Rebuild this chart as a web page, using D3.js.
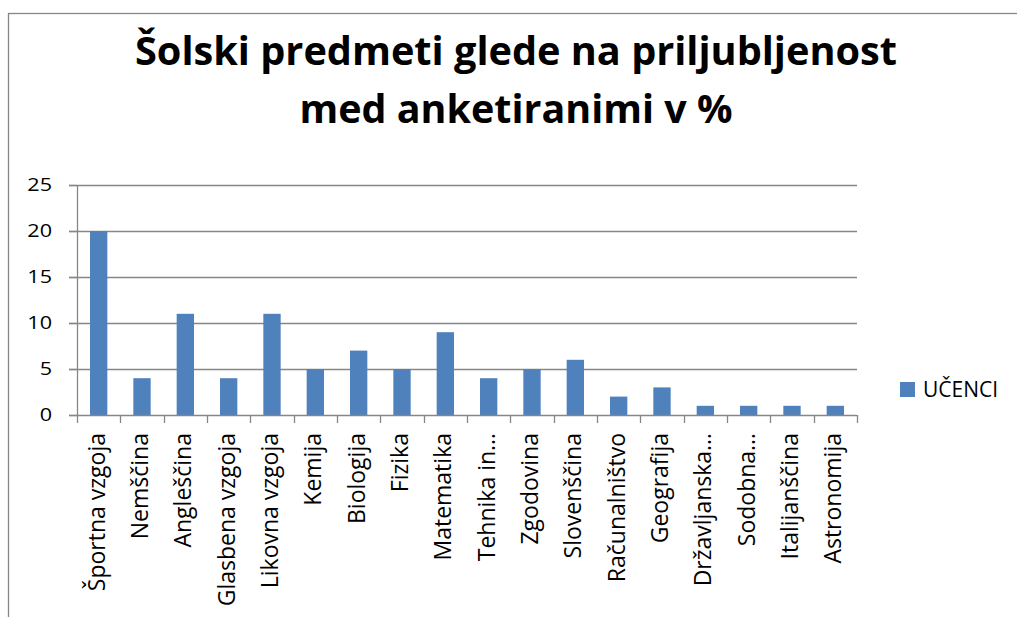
<!DOCTYPE html>
<html>
<head>
<meta charset="utf-8">
<script src="https://cdn.jsdelivr.net/npm/d3@7"></script>
<style>
  body { margin: 0; background: #fff; }
  svg { display: block; font-family: 'Open Sans', sans-serif; }
</style>
</head>
<body>
<svg id="chart" width="1017" height="617"></svg>
<script>
var categories = ['Športna vzgoja', 'Nemščina', 'Angleščina', 'Glasbena vzgoja', 'Likovna vzgoja',
  'Kemija', 'Biologija', 'Fizika', 'Matematika', 'Tehnika in…', 'Zgodovina', 'Slovenščina',
  'Računalništvo', 'Geografija', 'Državljanska…', 'Sodobna…', 'Italijanščina', 'Astronomija'];
var ucenci = [20, 4, 11, 4, 11, 5, 7, 5, 9, 4, 5, 6, 2, 3, 1, 1, 1, 1];
var yTicks = [0, 5, 10, 15, 20, 25];
var seriesName = 'UČENCI';
var titleLines = ['Šolski predmeti glede na priljubljenost', 'med anketiranimi v %'];

var svg = d3.select('#chart'),
    margin = {top: 185, left: 77, right: 160, bottom: 202},
    width = 1017 - margin.left - margin.right,
    height = 617 - margin.top - margin.bottom,
    grey = '#868686',
    blue = '#4F81BD';

// chart frame
svg.append('rect')
    .attr('x', 8.5).attr('y', 13.5)
    .attr('width', 1100).attr('height', 700)
    .attr('fill', 'none').attr('stroke', grey).attr('stroke-width', 1.3);

// title
svg.append('g').selectAll('text')
    .data(titleLines).enter().append('text')
    .attr('x', 516)
    .attr('y', function(d, i) { return 65 + i * 57.5; })
    .attr('text-anchor', 'middle')
    .attr('font-size', 40)
    .attr('font-weight', 'bold')
    .attr('textLength', function(d, i) { return i === 0 ? 762 : 433; })
    .attr('lengthAdjust', 'spacingAndGlyphs')
    .text(function(d) { return d; });

var g = svg.append('g').attr('transform', 'translate(' + margin.left + ',' + margin.top + ')');

var x = d3.scaleBand().domain(categories).range([0, width]);
var y = d3.scaleLinear().domain([0, 25]).range([height, 0]);
var barW = x.bandwidth() / 2.5;

// gridlines
g.append('g').selectAll('line')
    .data(yTicks.slice(1)).enter().append('line')
    .attr('x1', -8).attr('x2', width)
    .attr('y1', function(d) { return Math.round(y(d)) + 0.5; })
    .attr('y2', function(d) { return Math.round(y(d)) + 0.5; })
    .attr('stroke', grey).attr('stroke-width', 1.3);

// bars
g.append('g').selectAll('rect')
    .data(ucenci).enter().append('rect')
    .attr('x', function(d, i) { return x(categories[i]) + (x.bandwidth() - barW) / 2; })
    .attr('width', barW)
    .attr('y', function(d) { return y(d); })
    .attr('height', function(d) { return y(0) - y(d); })
    .attr('fill', blue);

// y axis
var yAxis = g.append('g')
    .call(d3.axisLeft(y).tickValues(yTicks).tickSize(8).tickPadding(0));
yAxis.selectAll('path, line').attr('stroke', grey).attr('stroke-width', 1.3);
yAxis.select('.domain').attr('d', 'M0.5,0V' + height);
yAxis.selectAll('text')
    .attr('font-size', 18).attr('fill', '#000')
    .attr('font-family', "'Open Sans', sans-serif")
    .attr('x', -25 / 1.2)
    .attr('transform', 'scale(1.2,1)');

// x axis line and ticks between categories
var xAxis = g.append('g').attr('transform', 'translate(0,' + height + ')');
xAxis.append('line')
    .attr('x1', -8).attr('x2', width).attr('y1', 0.5).attr('y2', 0.5)
    .attr('stroke', grey).attr('stroke-width', 1.3);
xAxis.selectAll('line.tick')
    .data(d3.range(categories.length + 1)).enter().append('line')
    .attr('class', 'tick')
    .attr('x1', function(i) { return Math.round(i * x.step()) + 0.5; })
    .attr('x2', function(i) { return Math.round(i * x.step()) + 0.5; })
    .attr('y1', 0).attr('y2', 8)
    .attr('stroke', grey).attr('stroke-width', 1.3);
xAxis.selectAll('text')
    .data(categories).enter().append('text')
    .attr('transform', function(d) {
      return 'translate(' + (x(d) + x.bandwidth() / 2 + 6) + ',18) rotate(-90)';
    })
    .attr('text-anchor', 'end')
    .attr('font-size', 23)
    .text(function(d) { return d; });

// legend
var legend = svg.append('g').attr('transform', 'translate(900,382)');
legend.append('rect').attr('width', 15).attr('height', 15).attr('fill', blue);
legend.append('text').attr('x', 23).attr('y', 15).attr('font-size', 21).text(seriesName);
</script>
</body>
</html>
